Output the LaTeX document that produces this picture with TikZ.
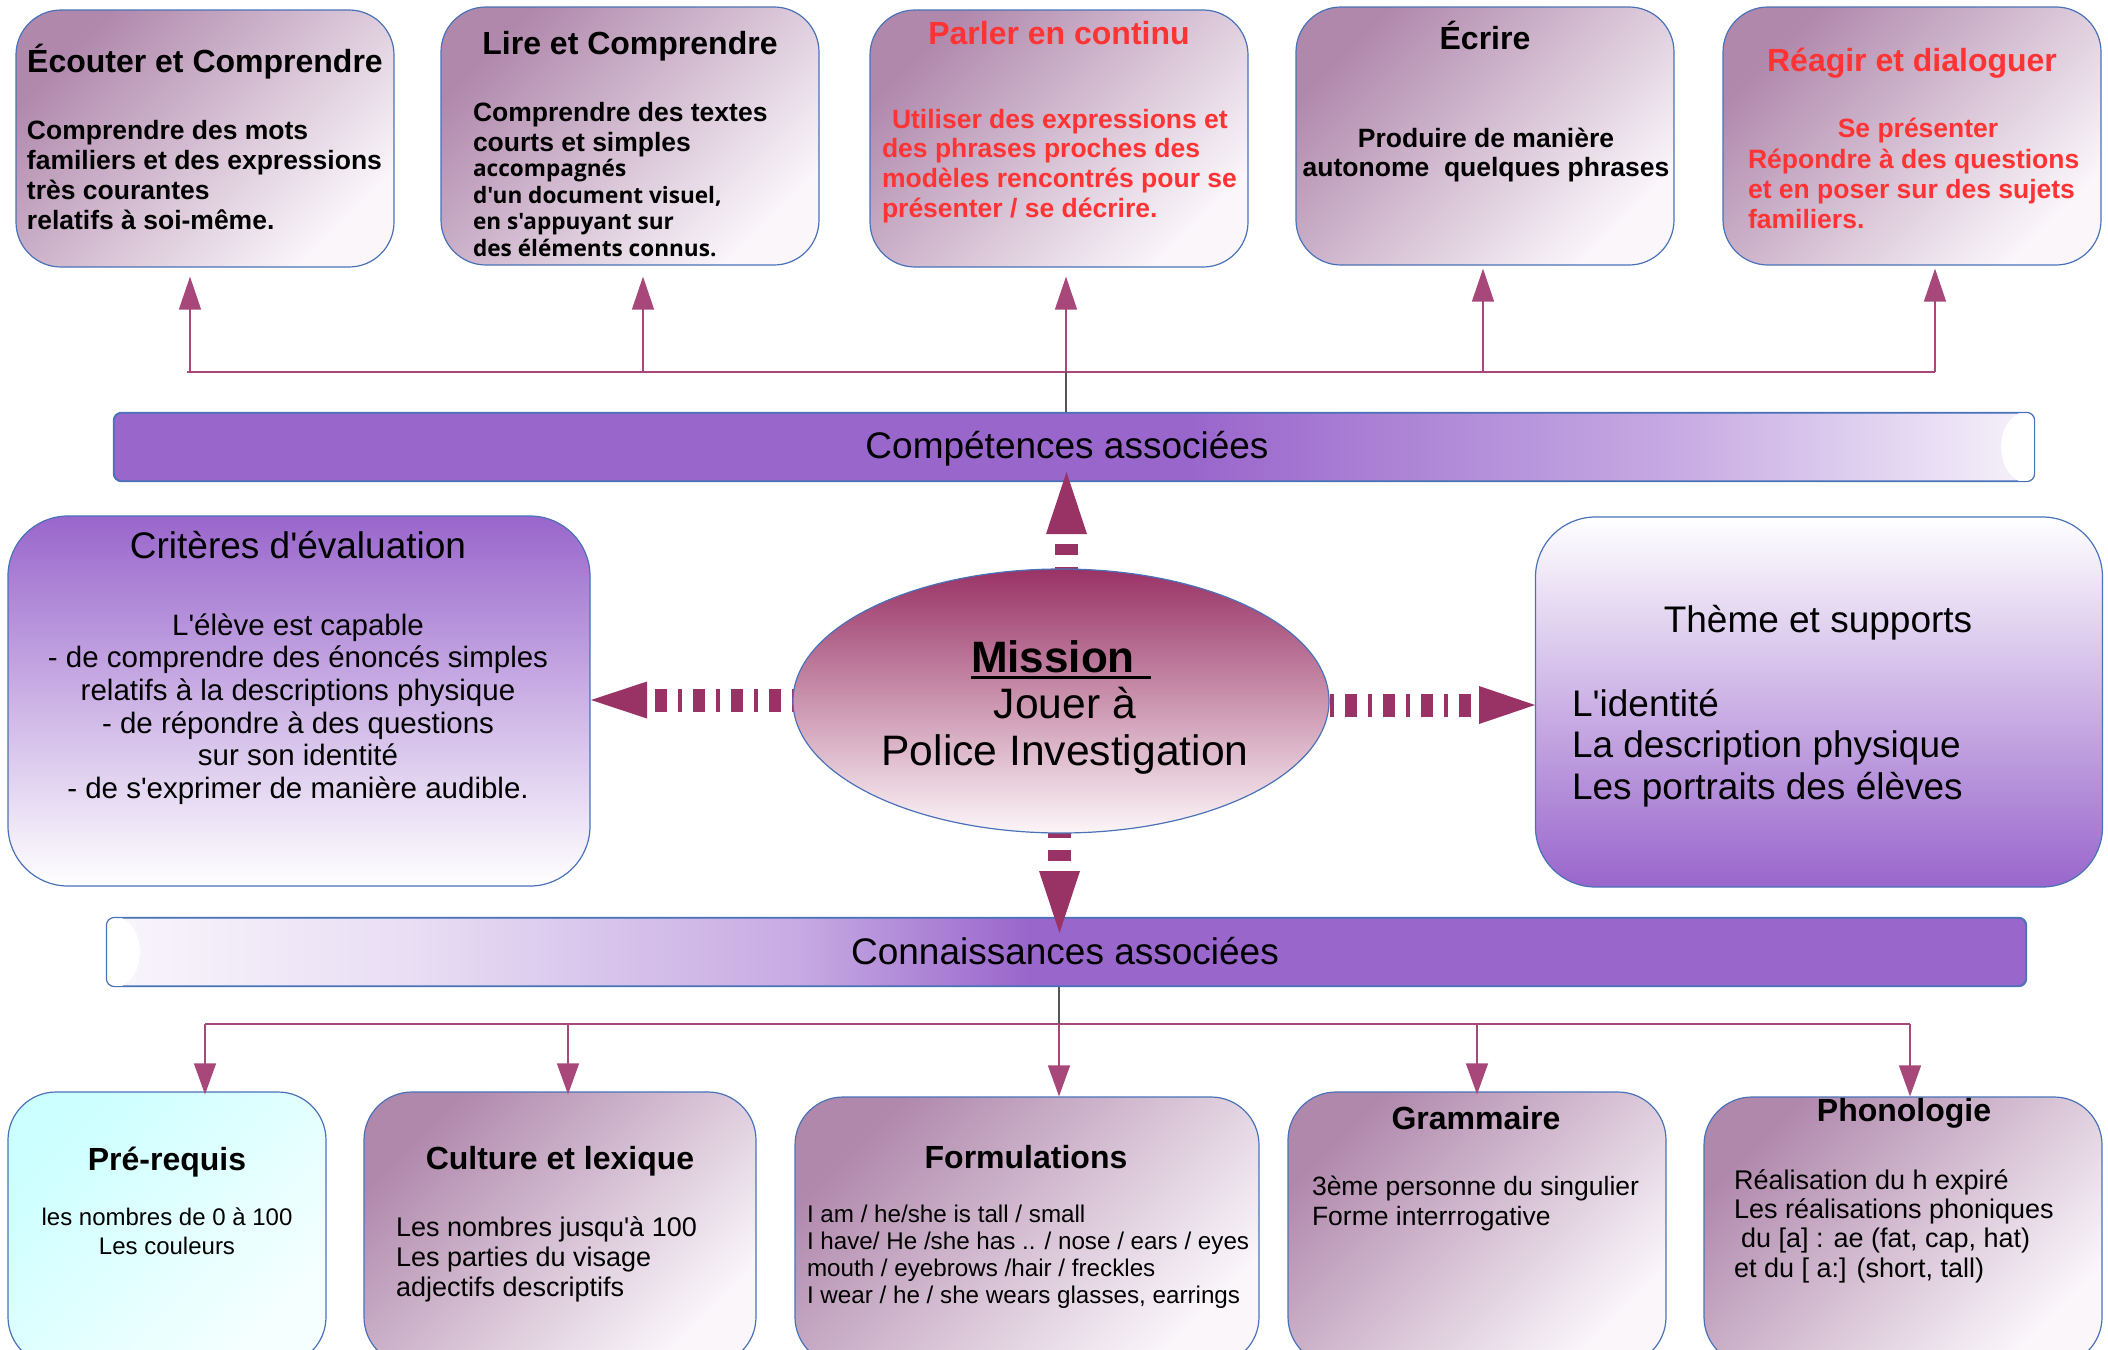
\documentclass[tikz,border=0pt]{standalone}
\usepackage{fontspec}
\setmainfont{Liberation Sans}[Ligatures=TeXOff]
\newfontfamily\osans{Open Sans}[Ligatures=TeXOff]
\usetikzlibrary{arrows.meta,calc,shapes.geometric}

\definecolor{vio}{HTML}{9966CC}
\definecolor{mauve}{RGB}{176,136,172}
\definecolor{mauvelight}{RGB}{250,246,250}
\definecolor{brd}{HTML}{4A72B8}
\definecolor{arr}{HTML}{993366}
\definecolor{connc}{RGB}{168,72,122}
\definecolor{redt}{HTML}{FF3333}
\definecolor{cyanl}{HTML}{CCFFFF}
\definecolor{cyanw}{HTML}{F6FFFF}
\definecolor{ellbot}{RGB}{252,245,248}
\definecolor{dkl}{HTML}{555555}
\colorlet{v54}{vio!54!white}
\colorlet{v8}{vio!8!white}
\colorlet{v6}{vio!6!white}
\colorlet{v22}{vio!22!white}
\colorlet{v55}{vio!55!white}

\pgfdeclarehorizontalshading{compsh}{100bp}{color(0bp)=(vio); color(25bp)=(vio); color(53bp)=(vio); color(66bp)=(v54); color(75bp)=(v8); color(100bp)=(v8)}
\pgfdeclarehorizontalshading{connsh}{100bp}{color(0bp)=(v6); color(25bp)=(v6); color(33bp)=(v22); color(43bp)=(v55); color(49bp)=(vio); color(75bp)=(vio); color(100bp)=(vio)}

\newcommand\fTtl{\bfseries\fontsize{32}{36}\selectfont}
\newcommand\fBdy{\bfseries\fontsize{26.5}{29.8}\selectfont}
\newcommand\fBig{\fontsize{37}{41.5}\selectfont}

\begin{document}
\begin{tikzpicture}[x=1pt,y=-1pt,
  mbox/.style={draw=brd, line width=1.2pt, top color=mauve, bottom color=mauvelight, shading angle=45, rounded corners=45pt, inner sep=0pt},
  cbox/.style={draw=brd, line width=1.2pt, top color=cyanl, bottom color=cyanw, shading angle=45, rounded corners=48pt, inner sep=0pt},
  bar/.style={draw=brd, line width=1.2pt, rounded corners=8pt, inner sep=0pt},
  txt/.style={inner sep=0pt, outer sep=0pt},
  conn/.style={draw=connc, line width=1.4pt},
  tipup/.style={-{Triangle[length=33pt,width=22pt]}},
  tipdn/.style={-{Triangle[length=31pt,width=22pt]}},
  dkline/.style={draw=dkl, line width=1.2pt},
  bigh/.style={draw=arr, line width=23pt, dash pattern=on 12pt off 11pt on 4pt off 11pt, dash phase=30pt},
  bigv/.style={draw=arr, line width=23pt, dash pattern=on 11pt off 12pt, dash phase=13pt},
]
\useasboundingbox (0,0) rectangle (2108,1349);
\clip (0,0) rectangle (2108,1349);

% ---------- top boxes ----------
\node[mbox, minimum width=378pt, minimum height=257pt] (b1) at (205,138.5) {};
\node[mbox, minimum width=378pt, minimum height=258pt] (b2) at (630,136) {};
\node[mbox, minimum width=378pt, minimum height=257pt] (b3) at (1059,138.5) {};
\node[mbox, minimum width=378pt, minimum height=258pt] (b4) at (1485,136) {};
\node[mbox, minimum width=378pt, minimum height=258pt] (b5) at (1912,136) {};

\node[txt, font=\fTtl] (b1t) at (205,62) {Écouter et Comprendre};
\node[txt, font=\fBdy, anchor=west, align=left] (b1x) at (27,175)
  {Comprendre des mots\\familiers et des expressions\\très courantes\\relatifs à soi-même.};

\node[txt, font=\fTtl] (b2t) at (630,46) {Lire et Comprendre};
\node[txt, font=\fBdy, anchor=west, align=left] (b2x) at (473,130)
  {Comprendre des textes\\courts et simples};
\node[txt, font=\osans\bfseries\fontsize{22.6}{26.7}\selectfont, anchor=west, align=left] (b2y) at (473,208)
  {accompagnés\\d'un document visuel,\\en s'appuyant sur\\des éléments connus.};

\node[txt, font=\fTtl, text=redt] (b3t) at (1059,33) {Parler en continu};
\node[txt, font=\fBdy, text=redt, anchor=west, align=left] (b3x) at (882,166)
  {\hspace*{10pt}Utiliser des expressions et\\des phrases proches des\\modèles rencontrés pour se\\présenter / se décrire.};

\node[txt, font=\fTtl] (b4t) at (1485,35) {Écrire};
\node[txt, font=\fBdy, align=center] (b4x) at (1486,155)
  {Produire de manière\\autonome\ \ quelques phrases};

\node[txt, font=\fTtl, text=redt] (b5t) at (1912,63) {Réagir et dialoguer};
\node[txt, font=\fBdy, text=redt] (b5s) at (1918,131) {Se présenter};
\node[txt, font=\fBdy, text=redt, anchor=west, align=left] (b5x) at (1748,189)
  {Répondre à des questions\\et en poser sur des sujets\\familiers.};

% ---------- bars ----------
\node[bar, shade, shading=compsh, minimum width=1920pt, minimum height=68pt] (comp) at (1074,447) {};
\node[bar, shade, shading=connsh, minimum width=1919pt, minimum height=68pt] (conn) at (1066.5,952) {};
% light crescents at the pale ends of the bars
\begin{scope}
  \clip[rounded corners=8pt] (comp.north west) rectangle (comp.south east);
  \fill[white] ($(comp.north east)+(-14,0)$) .. controls ($(comp.north east)+(-40,10)$) and ($(comp.south east)+(-40,-10)$) .. ($(comp.south east)+(-14,0)$) -- (comp.south east) -- (comp.north east) -- cycle;
\end{scope}
\begin{scope}
  \clip[rounded corners=8pt] (conn.north west) rectangle (conn.south east);
  \fill[white] ($(conn.north west)+(14,0)$) .. controls ($(conn.north west)+(40,10)$) and ($(conn.south west)+(40,-10)$) .. ($(conn.south west)+(14,0)$) -- (conn.south west) -- (conn.north west) -- cycle;
\end{scope}
\draw[brd, line width=1.2pt, rounded corners=8pt] (comp.north west) rectangle (comp.south east);
\draw[brd, line width=1.2pt, rounded corners=8pt] (conn.north west) rectangle (conn.south east);
\node[txt, font=\fBig] (compt) at (1067,449) {Compétences associées};
\node[txt, font=\fBig] (connt) at (1065,951) {Connaissances associées};

% ---------- side boxes ----------
\node[draw=brd, line width=1.2pt, rounded corners=60pt, top color=vio, bottom color=white,
      minimum width=582pt, minimum height=370pt, inner sep=0pt] (crit) at (299,701) {};
\node[txt, font=\fBig] (critt) at (298,545) {Critères d'évaluation};
\node[txt, font=\fontsize{29.5}{32.7}\selectfont, align=center] (critx) at (298,709)
  {L'élève est capable\\- de comprendre des énoncés simples\\relatifs à la descriptions physique\\- de répondre à des questions\\sur son identité\\- de s'exprimer de manière audible.};

\node[draw=brd, line width=1.2pt, rounded corners=60pt, top color=white, bottom color=vio,
      minimum width=567pt, minimum height=370pt, inner sep=0pt] (thm) at (1819,702) {};
\node[txt, font=\fBig] (thmt) at (1818,623) {Thème et supports};
\node[txt, font=\fBig, anchor=west, align=left] (thmx) at (1572,748)
  {L'identité\\La description physique\\Les portraits des élèves};

% ---------- bottom boxes ----------
\node[cbox, minimum width=318pt, minimum height=273pt] (c1) at (167,1228.5) {};
\node[mbox, rounded corners=48pt, minimum width=392pt, minimum height=273pt] (c2) at (560,1228.5) {};
\node[mbox, rounded corners=48pt, minimum width=464pt, minimum height=268pt] (c3) at (1027,1231) {};
\node[mbox, rounded corners=48pt, minimum width=378pt, minimum height=273pt] (c4) at (1477,1228.5) {};
\node[mbox, rounded corners=48pt, minimum width=398pt, minimum height=268pt] (c5) at (1903,1231) {};

\node[txt, font=\fTtl] (c1t) at (167,1162) {Pré-requis};
\node[txt, font=\fontsize{24}{29}\selectfont, align=center] (c1x) at (167,1231)
  {les nombres de 0 à 100\\Les couleurs};
\node[txt, font=\fTtl] (c2t) at (560,1161) {Culture et lexique};
\node[txt, font=\fontsize{27}{30}\selectfont, anchor=west, align=left] (c2x) at (396,1259)
  {Les nombres jusqu'à 100\\Les parties du visage\\adjectifs descriptifs};
\node[txt, font=\fTtl] (c3t) at (1026,1157) {Formulations};
\node[txt, font=\fontsize{24.2}{27}\selectfont, anchor=west, align=left] (c3x) at (807,1257)
  {I am / he/she is tall / small\\I have/ He /she has .. / nose / ears / eyes\\mouth / eyebrows /hair / freckles\\I wear / he / she wears glasses, earrings};
\node[txt, font=\fTtl] (c4t) at (1476,1118) {Grammaire};
\node[txt, font=\fontsize{26.5}{30}\selectfont, anchor=west, align=left] (c4x) at (1312,1203)
  {3ème personne du singulier\\Forme interrrogative};
\node[txt, font=\fTtl] (c5t) at (1904,1113) {Phonologie};
\node[txt, font=\fontsize{27}{29.3}\selectfont, anchor=west, align=left] (c5x) at (1734,1226)
  {Réalisation du h expiré\\Les réalisations phoniques\\\hspace*{7pt}du [a] : ae (fat, cap, hat)\\et du [ a:] (short, tall)};

% ---------- top connectors ----------
\coordinate (tbL) at (187,372);
\coordinate (tbR) at (1935,372);
\coordinate (tbM) at (1066,372);
\draw[conn] (tbL) -- (tbR);
\draw[dkline] (tbM) -- (tbM |- comp.north);
\coordinate (ta1) at (190,372);
\coordinate (ta2) at (643,372);
\coordinate (ta3) at (1066,372);
\coordinate (ta4) at (1483,372);
\coordinate (ta5) at (1935,372);
\draw[conn, tipup, shorten >=9pt] (ta1) -- (ta1 |- b1.south);
\draw[conn, tipup, shorten >=11pt] (ta2) -- (ta2 |- b2.south);
\draw[conn, tipup, shorten >=9pt] (ta3) -- (ta3 |- b3.south);
\draw[conn, tipup, shorten >=3pt] (ta4) -- (ta4 |- b4.south);
\draw[conn, tipup, shorten >=3pt] (ta5) -- (ta5 |- b5.south);

% ---------- bottom connectors ----------
\coordinate (bbL) at (205,1024);
\coordinate (bbR) at (1910,1024);
\coordinate (bbM) at (1059,1024);
\draw[conn] (bbL) -- (bbR);
\draw[dkline] (bbM |- conn.south) -- (bbM);
\coordinate (ba1) at (205,1024);
\coordinate (ba2) at (568,1024);
\coordinate (ba3) at (1059,1024);
\coordinate (ba4) at (1477,1024);
\coordinate (ba5) at (1910,1024);
\draw[conn, tipdn, shorten >=-3pt] (ba1) -- (ba1 |- c1.north);
\draw[conn, tipdn, shorten >=-3pt] (ba2) -- (ba2 |- c2.north);
\draw[conn, tipdn] (ba3) -- (ba3 |- c3.north);
\draw[conn, tipdn, shorten >=-3pt] (ba4) -- (ba4 |- c4.north);
\draw[conn, tipdn] (ba5) -- (ba5 |- c5.north);

% ---------- big dashed arrows (dashes) ----------
\coordinate (Lbase) at (647,700);
\coordinate (Ltip) at (591,700);
\coordinate (Rbase) at (1479,705);
\coordinate (Rtip) at (1535,705);
\coordinate (Ubase) at (1066.5,534);
\coordinate (Utip) at (1066.5,472);
\coordinate (Dbase) at (1059.5,871);
\coordinate (Dtip) at (1059.5,933);
\draw[bigh] (Lbase) -- (805,700);
\draw[bigh] (Rbase) -- (1318,705);
\draw[bigv] (Ubase) -- (1066.5,600);
\draw[bigv] (Dbase) -- (1059.5,805);

% ---------- ellipse ----------
\node[ellipse, draw=brd, line width=1.2pt, top color=arr, bottom color=ellbot,
      minimum width=536pt, minimum height=264pt, inner sep=0pt] (ell) at (1061,701) {};
\node[txt, font=\bfseries\fontsize{44}{48}\selectfont, anchor=west] (mis) at (971,657) {Mission};
\draw[black, line width=2.6pt] ($(mis.base west)+(0,5)$) -- ($(mis.base east)+(16,5)$);
\node[txt, font=\fontsize{42.6}{47}\selectfont, align=center] (jou) at (1065,731)
  {Jouer à\\Police Investigation};

% ---------- big arrow heads ----------
\fill[arr] (Ltip) -- ($(Lbase)+(0,-18.5)$) -- ($(Lbase)+(0,18.5)$) -- cycle;
\fill[arr] (Rtip) -- ($(Rbase)+(0,-19)$) -- ($(Rbase)+(0,19)$) -- cycle;
\fill[arr] (Utip) -- ($(Ubase)+(-20.5,0)$) -- ($(Ubase)+(20.5,0)$) -- cycle;
\fill[arr] (Dtip) -- ($(Dbase)+(-20.5,0)$) -- ($(Dbase)+(20.5,0)$) -- cycle;
\end{tikzpicture}
\end{document}
